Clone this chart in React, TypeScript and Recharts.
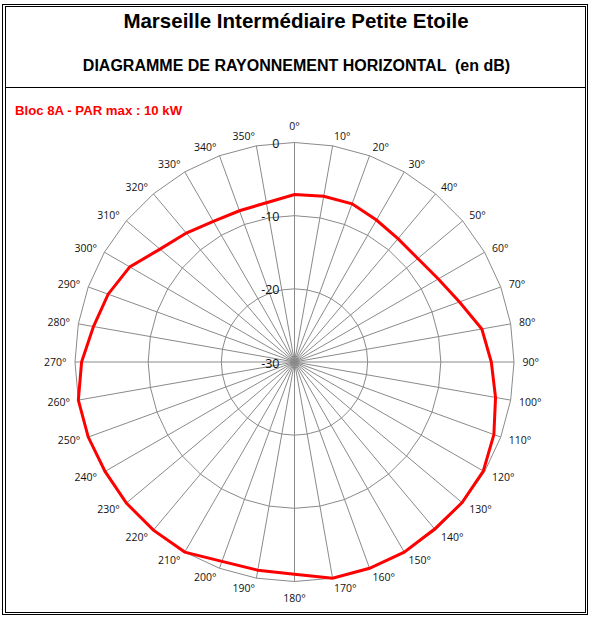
import React from "react";
import { RadarChart, Radar, PolarGrid, PolarAngleAxis, PolarRadiusAxis } from "recharts";

// horizontal radiation pattern, attenuation in dB every 10 degrees
const ANGLES = [0, 10, 20, 30, 40, 50, 60, 70, 80, 90, 100, 110, 120, 130, 140, 150, 160, 170,
  180, 190, 200, 210, 220, 230, 240, 250, 260, 270, 280, 290, 300, 310, 320, 330, 340, 350];
const LEVELS = [-7.1, -7.0, -7.0, -7.6, -8.0, -8.0, -7.3, -6.0, -4.0, -3.1, -2.1, -1.0, -0.2, -0.1, -0.2, 0, 0, 0,
  -1.0, -1.1, -1.0, 0, 0, 0, -0.1, 0, 0, -0.9, -2.1, -2.9, -4.0, -6.0, -7.0, -7.8, -8.0, -7.9];
const RADIUS_TICKS = [-30, -20, -10, 0];

const TITLE = "Marseille Intermédiaire Petite Etoile";
const SUBTITLE = "DIAGRAMME DE RAYONNEMENT HORIZONTAL  (en dB)";
const SERIES_LABEL = "Bloc 8A - PAR max : 10 kW";

const data = ANGLES.map((a, i) => ({ angle: a, db: LEVELS[i] }));

const W = 594;
const H = 623;
const CX = 294.5;
const CY = 362;
const R = 219.5;
const GRID = "#8a8a8a";
const FONT = "'Open Sans', 'Noto Sans', sans-serif";
const ARIAL = "'Liberation Sans', Arial, sans-serif";

const AngleTick = ({ payload }: any) => {
  const deg = Number(payload.value);
  const rad = (deg * Math.PI) / 180;
  const s = Math.sin(rad);
  const c = Math.cos(rad);
  let x = CX;
  let y = CY - c * 236;
  let anchor: "start" | "middle" | "end" = "middle";
  if (Math.abs(s) > 0.01) {
    x = CX + 228 * s;
    y = CY - 229 * c;
    anchor = s > 0 ? "start" : "end";
  }
  return (
    <text x={x} y={y} textAnchor={anchor} dominantBaseline="central" fontSize={10.5} fontFamily={FONT} fill="#111">
      {deg}°
    </text>
  );
};

const RadiusTick = ({ x, y, payload }: any) => (
  <text x={x - 15} y={y + 1} textAnchor="end" dominantBaseline="central" fontSize={12.5} fontFamily={FONT} fill="#111">
    {payload.value}
  </text>
);

export default function App() {
  return (
    <div style={{ position: "absolute", left: 0, top: 0, width: W, height: H, background: "#fff" }}>
      <svg width={W} height={H} style={{ position: "absolute", left: 0, top: 0 }}>
        <rect x={2.5} y={4.5} width={585} height={610} fill="none" stroke="#000" strokeWidth={1} />
        <rect x={5.5} y={6.5} width={580} height={606} fill="none" stroke="#000" strokeWidth={1} />
        <line x1={5.5} x2={585.5} y1={87.5} y2={87.5} stroke="#000" strokeWidth={1} />
        <text x={296} y={28} textAnchor="middle" fontSize={20.5} fontWeight="bold" fontFamily={ARIAL}>
          {TITLE}
        </text>
        <text x={296.5} y={71} textAnchor="middle" fontSize={16} fontWeight="bold" fontFamily={ARIAL} style={{ whiteSpace: "pre" }}>
          {SUBTITLE}
        </text>
        <text x={15} y={115} fontSize={13.2} fontWeight="bold" fill="#ff0000" fontFamily={ARIAL}>
          {SERIES_LABEL}
        </text>
      </svg>
      <div style={{ position: "absolute", left: 0, top: 0 }}>
        <RadarChart width={W} height={H} data={data} cx={CX} cy={CY} outerRadius={R} margin={{ top: 0, right: 0, bottom: 0, left: 0 }}>
          <PolarGrid gridType="polygon" stroke={GRID} strokeOpacity={1} />
          <PolarAngleAxis dataKey="angle" tick={<AngleTick />} tickLine={false} axisLine={false} />
          <PolarRadiusAxis angle={90} domain={[-30, 0]} ticks={RADIUS_TICKS as any} tickCount={4} axisLine={false} tick={<RadiusTick />} tickLine={false} />
          <Radar dataKey="db" stroke="#ff0000" strokeWidth={3} fill="none" fillOpacity={0} dot={false} isAnimationActive={false} />
        </RadarChart>
      </div>
    </div>
  );
}
